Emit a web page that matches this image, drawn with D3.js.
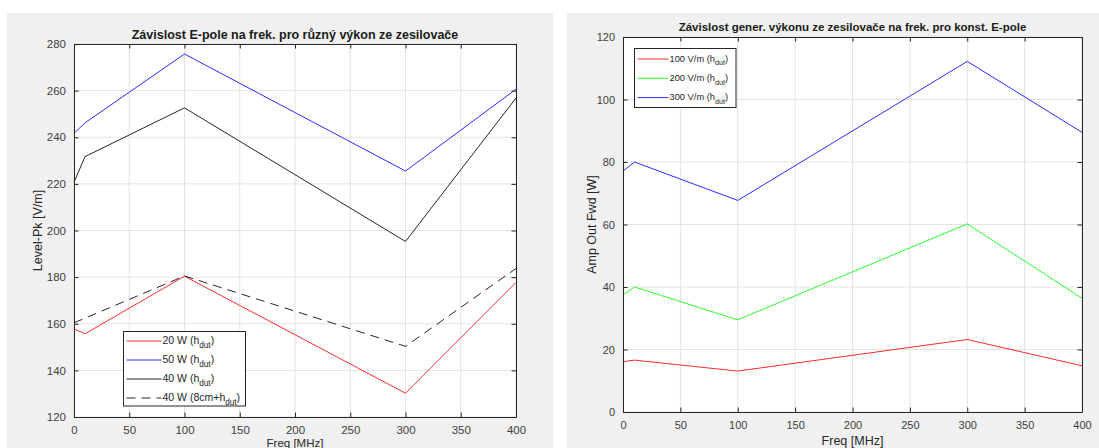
<!DOCTYPE html>
<html>
<head>
<meta charset="utf-8">
<script src="https://cdn.jsdelivr.net/npm/d3@7"></script>
<style>
  body { margin: 0; background: #fff; }
  svg { display: block; font-family: "Liberation Sans", Arial, sans-serif; }
</style>
</head>
<body>
<div id="chart"></div>
<script>
// frequencies [MHz]
const freqs = [0, 10, 100, 300, 400];
const xTicks = [0, 50, 100, 150, 200, 250, 300, 350, 400];

// left chart: E-field level for different amplifier power
const level20W = [157.8, 155.7, 180.4, 130.2, 177.7];
const level50W = [241.7, 246.2, 275.7, 225.5, 260.6];
const level40W = [220.7, 231.7, 252.6, 195.3, 256.8];
const level40W8cm = [160.4, 162.4, 180.5, 150.3, 183.7];
const leftYTicks = [120, 140, 160, 180, 200, 220, 240, 260, 280];

// right chart: amplifier forward power for constant E-field
const amp100 = [16.1, 16.6, 13.1, 23.2, 14.8];
const amp200 = [37.5, 40.0, 29.5, 60.2, 36.4];
const amp300 = [77.1, 80.0, 67.7, 112.2, 89.5];
const rightYTicks = [0, 20, 40, 60, 80, 100, 120];

const width = 1099, height = 448;

const svg = d3.select("#chart")
  .append("svg")
  .attr("width", width)
  .attr("height", height);

function drawPanel(cfg) {
  // grey figure background
  svg.append("rect")
    .attr("x", cfg.bg[0]).attr("y", cfg.bg[1])
    .attr("width", cfg.bg[2]).attr("height", cfg.bg[3])
    .attr("fill", "#f0f0f0");

  const x = d3.scaleLinear().domain([0, 400]).range([cfg.left, cfg.right]);
  const y = d3.scaleLinear().domain(cfg.yDomain).range([cfg.bottom, cfg.top]);

  const g = svg.append("g");

  g.append("rect")
    .attr("x", cfg.left).attr("y", cfg.top)
    .attr("width", cfg.right - cfg.left).attr("height", cfg.bottom - cfg.top)
    .attr("fill", "#fff");

  // grid
  g.append("g").selectAll("line").data(xTicks).join("line")
    .attr("x1", d => x(d)).attr("x2", d => x(d))
    .attr("y1", cfg.top).attr("y2", cfg.bottom)
    .attr("stroke", "#e3e3e3").attr("stroke-width", 1);
  g.append("g").selectAll("line").data(cfg.yTicks).join("line")
    .attr("x1", cfg.left).attr("x2", cfg.right)
    .attr("y1", d => y(d)).attr("y2", d => y(d))
    .attr("stroke", "#e3e3e3").attr("stroke-width", 1);

  // series
  const line = d3.line().x((d, i) => x(freqs[i])).y(d => y(d));
  cfg.series.forEach(s => {
    g.append("path")
      .datum(s.values)
      .attr("d", line)
      .attr("fill", "none")
      .attr("stroke", s.color)
      .attr("stroke-width", 1)
      .attr("stroke-dasharray", s.dash || null);
  });

  // axes with inside ticks (box on)
  const tl = 4.5;
  g.append("g").attr("transform", `translate(0,${cfg.bottom})`)
    .call(d3.axisBottom(x).tickValues(xTicks).tickSizeInner(-tl).tickSizeOuter(0).tickPadding(9));
  g.append("g").attr("transform", `translate(0,${cfg.top})`)
    .call(d3.axisTop(x).tickValues(xTicks).tickSizeInner(-tl).tickSizeOuter(0).tickFormat(""));
  g.append("g").attr("transform", `translate(${cfg.left},0)`)
    .call(d3.axisLeft(y).tickValues(cfg.yTicks).tickSizeInner(-tl).tickSizeOuter(0).tickPadding(8));
  g.append("g").attr("transform", `translate(${cfg.right},0)`)
    .call(d3.axisRight(y).tickValues(cfg.yTicks).tickSizeInner(-tl).tickSizeOuter(0).tickFormat(""));

  g.selectAll(".domain").attr("stroke", "#262626").attr("stroke-width", 1);
  g.selectAll(".tick line").attr("stroke", "#262626");
  g.selectAll(".tick text")
    .attr("fill", "#404040")
    .attr("font-size", cfg.tickFont)
    .attr("font-family", "Liberation Sans, Arial, sans-serif");

  // title
  svg.append("text")
    .attr("x", (cfg.left + cfg.right) / 2)
    .attr("y", cfg.titleY)
    .attr("text-anchor", "middle")
    .attr("font-weight", "bold")
    .attr("font-size", cfg.titleFont)
    .attr("fill", "#1a1a1a")
    .text(cfg.title);

  // axis labels
  svg.append("text")
    .attr("x", (cfg.left + cfg.right) / 2)
    .attr("y", cfg.xLabelY)
    .attr("text-anchor", "middle")
    .attr("font-size", cfg.xLabelFont)
    .attr("fill", "#262626")
    .text("Freq [MHz]");
  svg.append("text")
    .attr("transform", `translate(${cfg.yLabelX},${(cfg.top + cfg.bottom) / 2}) rotate(-90)`)
    .attr("text-anchor", "middle")
    .attr("dy", "0.35em")
    .attr("font-size", cfg.labelFont)
    .attr("fill", "#262626")
    .text(cfg.yLabel);

  // legend
  const L = cfg.legend;
  const lg = svg.append("g");
  lg.append("rect")
    .attr("x", L.x).attr("y", L.y).attr("width", L.w).attr("height", L.h)
    .attr("fill", "#fff").attr("stroke", "#262626").attr("stroke-width", 1);
  cfg.series.forEach((s, i) => {
    const cy = L.y + L.first + i * L.step;
    lg.append("line")
      .attr("x1", L.x + 3).attr("x2", L.x + 3 + L.sample)
      .attr("y1", cy).attr("y2", cy)
      .attr("stroke", s.color).attr("stroke-width", 1)
      .attr("stroke-dasharray", s.dash || null);
    const t = lg.append("text")
      .attr("x", L.x + L.sample + 4).attr("y", cy)
      .attr("dy", "0.3em")
      .attr("font-size", L.font)
      .attr("fill", "#262626");
    t.append("tspan").text(s.label + " (" + (s.prefix || "") + "h");
    t.append("tspan").attr("dy", 3.5).attr("font-size", L.font * 0.78).text("dut");
    t.append("tspan").attr("dy", -3.5).text(")");
  });
}

drawPanel({
  bg: [7, 13, 546, 435],
  left: 74, right: 516, top: 44, bottom: 417,
  yDomain: [120, 280], yTicks: leftYTicks,
  title: "Závislost E-pole na frek. pro různý výkon ze zesilovače",
  titleY: 39, titleFont: 12.5, tickFont: 11.5, labelFont: 12.5,
  xLabelY: 447, xLabelFont: 11.5,
  yLabel: "Level-Pk [V/m]", yLabelX: 38,
  series: [
    { label: "20 W", values: level20W, color: "#ff2b2b" },
    { label: "50 W", values: level50W, color: "#2b2bff" },
    { label: "40 W", values: level40W, color: "#262626" },
    { label: "40 W", prefix: "8cm+", values: level40W8cm, color: "#262626", dash: "9,6" }
  ],
  legend: { x: 123.5, y: 331.5, w: 122, h: 74.5, first: 9.5, step: 19, sample: 35, font: 10.5 }
});

drawPanel({
  bg: [567, 13, 532, 435],
  left: 623, right: 1082, top: 37, bottom: 412,
  yDomain: [0, 120], yTicks: rightYTicks,
  title: "Závislost gener. výkonu ze zesilovače na frek. pro konst. E-pole",
  titleY: 31, titleFont: 11.5, tickFont: 11, labelFont: 12.5,
  xLabelY: 445, xLabelFont: 12.5,
  yLabel: "Amp Out Fwd [W]", yLabelX: 592,
  series: [
    { label: "100 V/m", values: amp100, color: "#ff2b2b" },
    { label: "200 V/m", values: amp200, color: "#2bff2b" },
    { label: "300 V/m", values: amp300, color: "#2b2bff" }
  ],
  legend: { x: 634.5, y: 48.5, w: 101.5, h: 59, first: 10.5, step: 19.3, sample: 31, font: 9.3 }
});
</script>
</body>
</html>
